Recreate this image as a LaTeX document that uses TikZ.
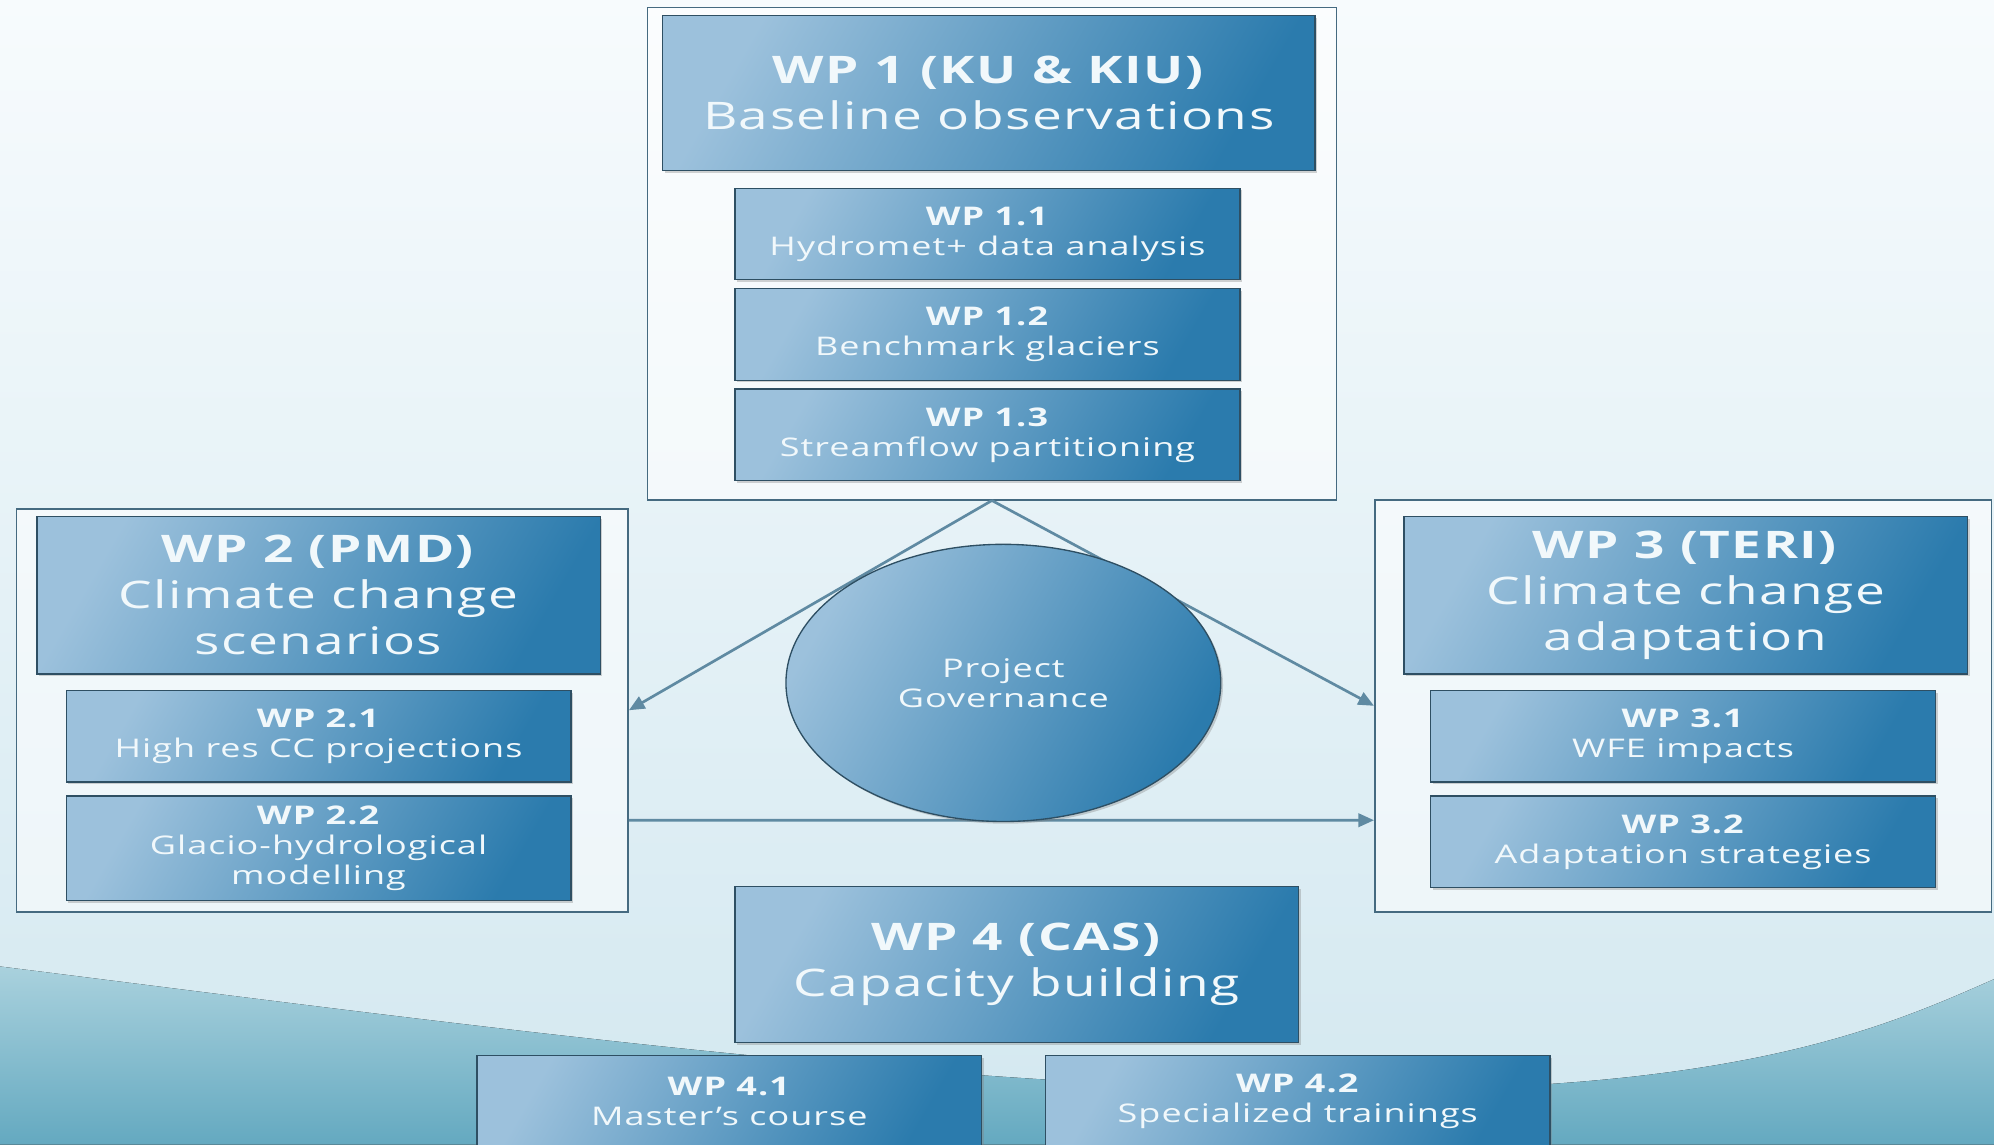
\documentclass[tikz,border=0pt]{standalone}
\usepackage{fontspec}
\setmainfont{Open Sans}[FakeStretch=1.4,LetterSpace=4]
\usetikzlibrary{shapes.geometric,arrows.meta,shadows}

\definecolor{wplight}{HTML}{9CC1DC}
\definecolor{wpdark}{HTML}{2B7BAD}
\definecolor{wpline}{HTML}{2E4F63}
\definecolor{wptext}{HTML}{F1F8FB}
\definecolor{framecol}{HTML}{456A80}
\definecolor{arrowcol}{HTML}{5F8AA2}
\definecolor{bgtop}{HTML}{F7FBFD}
\definecolor{bgbot}{HTML}{D3E8F0}
\definecolor{wavetop}{HTML}{A9D1DD}
\definecolor{wavebot}{HTML}{64A9C0}

\begin{document}
\begin{tikzpicture}
  [x=0.02cm, y=-0.02cm,
   every node/.style={inner sep=0pt, align=center, text=wptext},
   wpbox/.style={draw=wpline, line width=0.6pt, left color=wplight, right color=wpdark,
     shading angle=60, drop shadow={opacity=0.35, shadow xshift=1pt, shadow yshift=-1pt}},
   headbox/.style={wpbox, minimum width=8.86cm, minimum height=2.48cm,
     font=\fontsize{17}{20.5}\selectfont},
   taskbox/.style={wpbox, minimum width=7.94cm, minimum height=1.44cm,
     font=\fontsize{11.5}{13.5}\selectfont},
   wpframe/.style={draw=framecol, line width=0.7pt, fill=white, fill opacity=0.55},
   link/.style={draw=arrowcol, line width=1.2pt, -{Triangle[length=7pt,width=6pt]}}]

  % background
  \useasboundingbox (0,0) rectangle (1568,900);
  \fill[top color=bgtop, bottom color=bgbot] (0,0) rectangle (1568,900);
  \fill[top color=wavetop, bottom color=wavebot]
    (0,760) .. controls (400,810) and (900,880) .. (1250,850)
    .. controls (1420,835) and (1500,800) .. (1568,770) -- (1568,900) -- (0,900) -- cycle;

  % frames
  \node[wpframe, minimum width=10.84cm, minimum height=7.74cm] (wp1f) at (780,199.5) {};
  \node[wpframe, minimum width=9.62cm, minimum height=6.34cm] (wp2f) at (253.5,558.5) {};
  \node[wpframe, minimum width=9.7cm, minimum height=6.48cm] (wp3f) at (1323.5,555) {};

  % WP 1
  \node[headbox, minimum width=10.26cm, minimum height=2.44cm] (wp1) at (777.5,73)
    {\textbf{WP 1 (KU \& KIU)}\\Baseline observations};
  \node[taskbox] (wp11) at (776.5,184) {\textbf{WP 1.1}\\Hydromet+ data analysis};
  \node[taskbox] (wp12) at (776.5,263) {\textbf{WP 1.2}\\Benchmark glaciers};
  \node[taskbox] (wp13) at (776.5,342) {\textbf{WP 1.3}\\Streamflow partitioning};

  % WP 2
  \node[headbox] (wp2) at (250.5,468) {\textbf{WP 2 (PMD)}\\Climate change\\scenarios};
  \node[taskbox] (wp21) at (250.5,579) {\textbf{WP 2.1}\\High res CC projections};
  \node[taskbox, minimum height=1.64cm] (wp22) at (250.5,667)
    {\textbf{WP 2.2}\\Glacio-hydrological\\modelling};

  % WP 3
  \node[headbox] (wp3) at (1325.5,468) {\textbf{WP 3 (TERI)}\\Climate change\\adaptation};
  \node[taskbox] (wp31) at (1323.5,579) {\textbf{WP 3.1}\\WFE impacts};
  \node[taskbox] (wp32) at (1323.5,662) {\textbf{WP 3.2}\\Adaptation strategies};

  % links
  \draw[link] (wp1f.south) -- (wp2f.east);
  \draw[link] (wp1f.south) -- (wp3f.west);
  \draw[link] ([yshift=-1.73cm]wp2f.east) -- ([yshift=-1.8cm]wp3f.west);

  % governance
  \node[wpbox, ellipse, minimum width=6.84cm, minimum height=4.36cm,
    font=\fontsize{11.5}{13.6}\selectfont] (gov) at (789,537) {Project\\Governance};

  % WP 4
  \node[headbox, minimum height=2.46cm] (wp4) at (799.5,758.5) {\textbf{WP 4 (CAS)}\\Capacity building};
  \node[taskbox] (wp41) at (573.5,866) {\textbf{WP 4.1}\\Master's course};
  \node[taskbox] (wp42) at (1020.5,866) {\textbf{WP 4.2}\\Specialized trainings};
\end{tikzpicture}
\end{document}
